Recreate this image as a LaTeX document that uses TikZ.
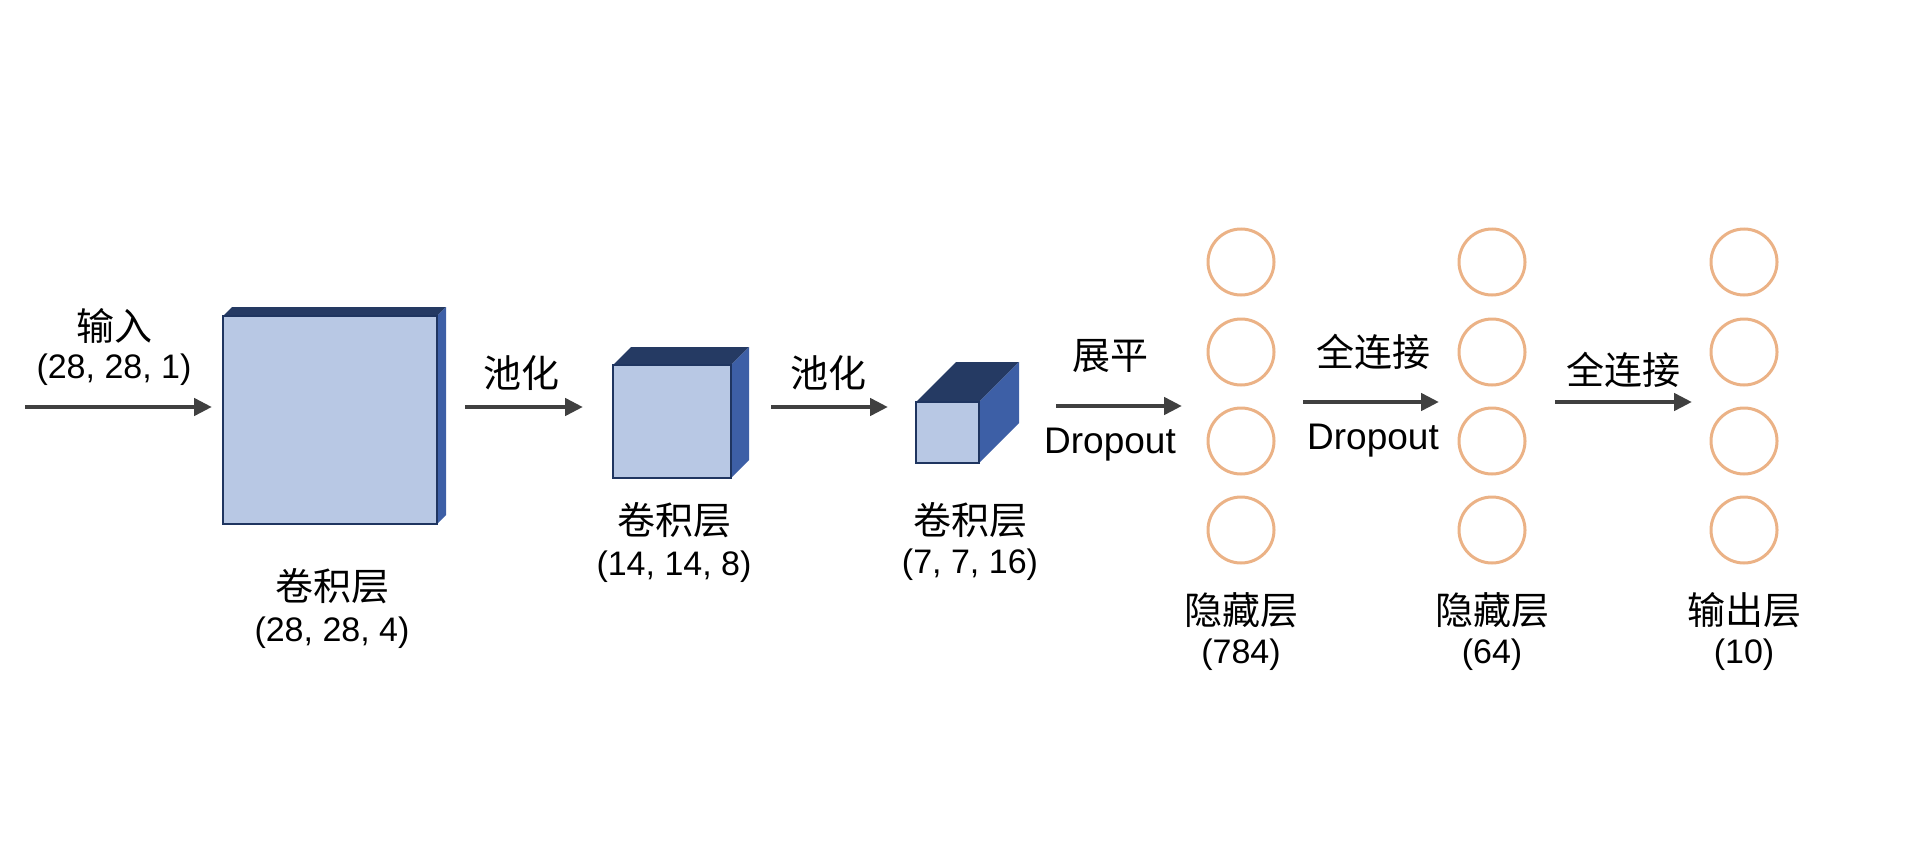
\documentclass[tikz,border=0pt]{standalone}
\usepackage{fontspec}
\setmainfont{Liberation Sans}
\newfontfamily\cjk{Noto Sans CJK SC}
\usetikzlibrary{arrows.meta}
\definecolor{arrowc}{HTML}{404040}
\definecolor{frontc}{HTML}{B8C8E4}
\definecolor{topc}{HTML}{253A63}
\definecolor{sidec}{HTML}{3D5FA6}
\definecolor{edgec}{HTML}{1F3560}
\definecolor{neuronc}{HTML}{EBB286}
\tikzset{
 flow/.style={draw=arrowc, line width=4.5pt, -{Triangle[length=18pt,width=17pt]}},
 neuron/.style={circle, draw=neuronc, line width=3pt, minimum size=66pt, inner sep=0pt},
 lbl/.style={font=\fontsize{34}{40}\selectfont, inner sep=0pt, anchor=center},
 zh/.style={font=\fontsize{38}{44}\selectfont\cjk, inner sep=0pt, anchor=center},
 drop/.style={font=\fontsize{37}{44}\selectfont, inner sep=0pt, anchor=center},
 frontface/.style={fill=frontc, draw=edgec, line width=2pt},
}
% #1 name, #2 x1, #3 y1, #4 x2, #5 y2, #6 depth
\newcommand\mycube[6]{%
 \fill[topc] (#2,#3) -- ({#2+#6},{#3-#6}) -- ({#4+#6},{#3-#6}) -- (#4,#3) -- cycle;
 \fill[sidec] (#4,#3) -- ({#4+#6},{#3-#6}) -- ({#4+#6},{#5-#6}) -- (#4,#5) -- cycle;
 \draw[frontface] (#2,#3) rectangle (#4,#5);
 \coordinate (#1) at ({(#2+#4)/2},{(#3+#5)/2});
}
\begin{document}
\begin{tikzpicture}[x=1pt,y=-1pt]
\useasboundingbox (0,0) rectangle (1926,856);
% cubes
\mycube{c1}{223}{316}{437}{524}{9}
\mycube{c2}{613}{365}{731}{478}{18}
\mycube{c3}{916}{402}{979}{463}{40}
% neurons
\foreach \c/\x in {1/1241,2/1492,3/1744}{
  \foreach \r/\y in {1/262,2/352,3/441,4/530}{
    \node[neuron] (n\c\r) at (\x,\y) {};
  }
}
% arrow end points
\coordinate (a1s) at (25,407);   \coordinate (a1e) at (212,407);
\coordinate (a2s) at (465,407);  \coordinate (a2e) at (583,407);
\coordinate (a3s) at (771,407);  \coordinate (a3e) at (888,407);
\coordinate (a4s) at (1056,406); \coordinate (a4e) at (1182,406);
\coordinate (a5s) at (1303,402); \coordinate (a5e) at (1439,402);
\coordinate (a6s) at (1555,402); \coordinate (a6e) at (1692,402);
\draw[flow] (a1s) -- (a1e);
\draw[flow] (a2s) -- (a2e);
\draw[flow] (a3s) -- (a3e);
\draw[flow] (a4s) -- (a4e);
\draw[flow] (a5s) -- (a5e);
\draw[flow] (a6s) -- (a6e);
% labels
\node[zh] (t1a) at (114,326) {输入};
\node[lbl] (t1b) at (114,370) {(28, 28, 1)};
\node[zh] (t2) at (521,373) {池化};
\node[zh] (t3) at (828,373) {池化};
\node[zh] (t4a) at (1110,356) {展平};
\node[drop] (t4b) at (1110,445) {Dropout};
\node[zh] (t5a) at (1373,352) {全连接};
\node[drop] (t5b) at (1373,441) {Dropout};
\node[zh] (t6) at (1623,370) {全连接};
\node[zh] (l1a) at (332,586) {卷积层};
\node[lbl] (l1b) at (332,633) {(28, 28, 4)};
\node[zh] (l2a) at (674,520) {卷积层};
\node[lbl] (l2b) at (674,567) {(14, 14, 8)};
\node[zh] (l3a) at (970,520) {卷积层};
\node[lbl] (l3b) at (970,565) {(7, 7, 16)};
\node[zh] (h1a) at (1241,610) {隐藏层};
\node[lbl] (h1b) at (1241,655) {(784)};
\node[zh] (h2a) at (1492,610) {隐藏层};
\node[lbl] (h2b) at (1492,655) {(64)};
\node[zh] (h3a) at (1744,610) {输出层};
\node[lbl] (h3b) at (1744,655) {(10)};
\end{tikzpicture}
\end{document}
